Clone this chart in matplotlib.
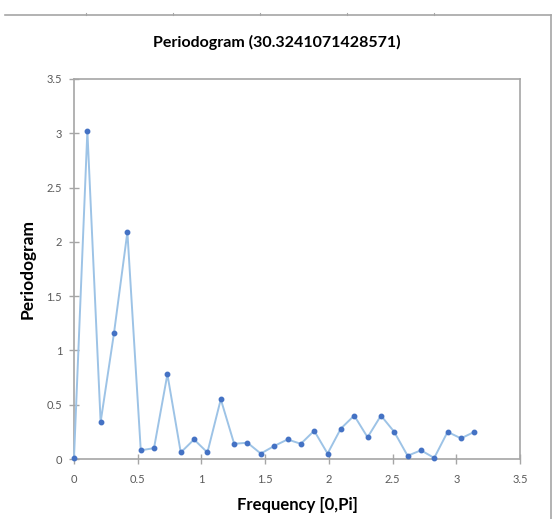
import matplotlib.pyplot as plt
from matplotlib.lines import Line2D

# frequency in [0, pi] and periodogram values
freq = [0.000, 0.105, 0.209, 0.314, 0.419, 0.524, 0.628, 0.733, 0.838, 0.942,
        1.047, 1.152, 1.257, 1.361, 1.466, 1.571, 1.676, 1.780, 1.885, 1.990,
        2.094, 2.199, 2.304, 2.409, 2.513, 2.618, 2.723, 2.827, 2.932, 3.037,
        3.142]
pgram = [0.01, 3.02, 0.34, 1.16, 2.09, 0.08, 0.10, 0.78, 0.06, 0.18,
         0.06, 0.55, 0.14, 0.15, 0.05, 0.12, 0.18, 0.14, 0.26, 0.05,
         0.28, 0.40, 0.20, 0.40, 0.25, 0.03, 0.08, 0.01, 0.25, 0.19,
         0.25]
ticks = [0, 0.5, 1, 1.5, 2, 2.5, 3, 3.5]
tick_labels = ["0", "0.5", "1", "1.5", "2", "2.5", "3", "3.5"]

plt.rcParams["font.family"] = ["Lato", "DejaVu Sans"]
GRID = "#a6a6a6"

fig = plt.figure(figsize=(5.53, 5.19), dpi=100)
ax = fig.add_axes([0.1338, 0.1156, 0.8065, 0.7322])

ax.plot(freq, pgram, color="#9dc3e6", lw=1.4, marker="o", markersize=3.2,
        markerfacecolor="#4472c4", markeredgecolor="#4472c4", zorder=3,
        clip_on=False)

ax.set_xlim(0, 3.5)
ax.set_ylim(0, 3.5)
ax.set_xticks(ticks, tick_labels)
ax.set_yticks(ticks, tick_labels)
for s in ax.spines.values():
    s.set_color(GRID)
    s.set_linewidth(1.2)
ax.tick_params(direction="inout", length=7, width=1, color=GRID,
               labelsize=8, labelcolor="#595959")
ax.tick_params(axis="x", pad=7)
ax.tick_params(axis="y", pad=5)

ax.set_xlabel("Frequency [0,Pi]", fontsize=12, fontweight="bold", labelpad=9)
ax.set_ylabel("Periodogram", fontsize=12.5, fontweight="bold", labelpad=8)
fig.text(0.5, 1 - 42 / 519, "Periodogram (30.3241071428571)", fontsize=11.5,
         fontweight="bold", ha="center", va="center")

# outer chart frame (top and right edges visible in the capture)
fig.add_artist(Line2D([5 / 553, 551 / 553], [1 - 15 / 519, 1 - 15 / 519],
                      color=GRID, lw=1.2, transform=fig.transFigure))
fig.add_artist(Line2D([551 / 553, 551 / 553], [1 - 15 / 519, 0],
                      color=GRID, lw=1.2, transform=fig.transFigure))
for px in [86, 173, 260, 347, 434]:
    fig.add_artist(Line2D([px / 553, px / 553], [1 - 13 / 519, 1 - 15 / 519],
                          color=GRID, lw=0.8, transform=fig.transFigure))

fig.savefig("out.png", dpi=100, facecolor="white")
